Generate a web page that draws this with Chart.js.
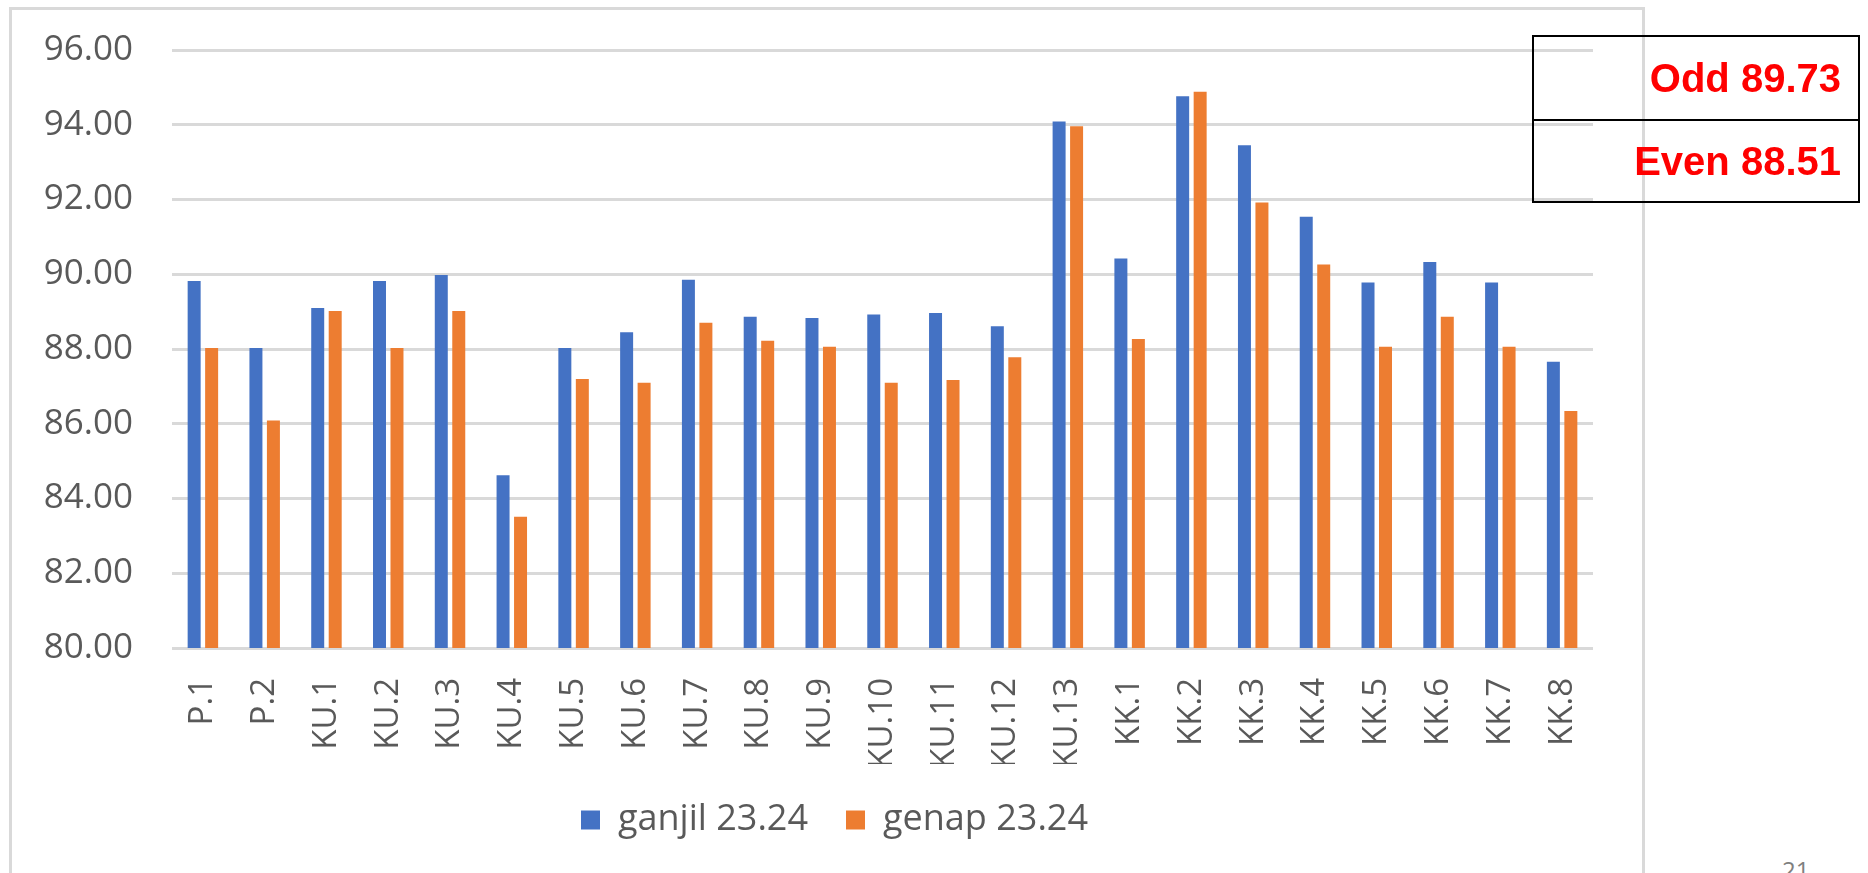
<!DOCTYPE html>
<html>
<head>
<meta charset="utf-8">
<title>ganjil / genap 23.24</title>
<script src="https://cdn.jsdelivr.net/npm/chart.js@4.4.1/dist/chart.umd.min.js"></script>
<style>
  html, body { margin: 0; padding: 0; background: #fff; overflow: hidden; }
  body { width: 1868px; height: 873px; position: relative; font-family: "Open Sans", sans-serif; }
  /* light grey frame round the chart, bottom edge runs off the page */
  #frame { position: absolute; left: 9px; top: 7px; width: 1636px; height: 900px;
           border: 3px solid #d9d9d9; box-sizing: border-box; }
  #chart { position: absolute; left: 0; top: 0; }
  /* averages box, top right */
  #avg { position: absolute; left: 1532px; top: 35px; width: 328px; height: 168px;
         border: 2px solid #000; box-sizing: border-box; }
  #avg div { height: 50%; box-sizing: border-box; display: flex; align-items: center;
             justify-content: flex-end; padding-right: 17px;
             font: bold 40px "Liberation Sans", Arial, sans-serif; color: #ff0000; }
  #avg div + div { border-top: 2px solid #000; }
  #page { position: absolute; left: 1782px; top: 858px; font-size: 24px; line-height: 24px; color: #7f7f7f; }
</style>
</head>
<body>
<div id="frame"><canvas id="chart" width="1630" height="863"></canvas></div>
<div id="avg"><div id="avgOdd"></div><div id="avgEven"></div></div>
<div id="page">21</div>
<script>
// Categories on the x axis
const labels = ['P.1', 'P.2', 'KU.1', 'KU.2', 'KU.3', 'KU.4', 'KU.5', 'KU.6', 'KU.7', 'KU.8',
    'KU.9', 'KU.10', 'KU.11', 'KU.12', 'KU.13', 'KK.1', 'KK.2', 'KK.3', 'KK.4', 'KK.5',
    'KK.6', 'KK.7', 'KK.8'];

// Scores per semester
const ganjil = [89.82, 88.03, 89.10, 89.82, 89.98, 84.62, 88.03, 88.45, 89.85, 88.86,
    88.83, 88.92, 88.96, 88.61, 94.09, 90.42, 94.76, 93.45, 91.54, 89.78,
    90.33, 89.78, 87.66];
const genap = [88.03, 86.09, 89.02, 88.03, 89.02, 83.51, 87.20, 87.10, 88.70, 88.22,
    88.06, 87.10, 87.17, 87.78, 93.96, 88.27, 94.88, 91.92, 90.26, 88.06,
    88.86, 88.06, 86.34];

const seriesNames = ['ganjil 23.24', 'genap 23.24'];
const seriesColors = ['#4472C4', '#ED7D31'];

// Y axis range
const yMin = 80;
const yMax = 96;
const yStep = 2;

// Averages shown in the box
function mean(arr) {
    var sum = 0;
    arr.forEach(v => sum += v);
    return sum / arr.length;
}
document.getElementById('avgOdd').textContent = 'Odd ' + mean(ganjil).toFixed(2);
document.getElementById('avgEven').textContent = 'Even ' + mean(genap).toFixed(2);

const axisGrey = '#595959';

const datasets = [ganjil, genap].map((data, i) => ({
    label: seriesNames[i],
    data: data,
    backgroundColor: seriesColors[i],
    borderWidth: 0,
    barPercentage: 0.743,
    categoryPercentage: 0.566
}));

// The legend sits a little right of the canvas middle
const legendShift = {
    id: 'legendShift',
    afterLayout(chart) {
        chart.legend.left += 20;
        chart.legend.right += 20;
    }
};

// Creates the chart
const ctx = document.getElementById('chart').getContext('2d');
new Chart(ctx, {
    type: 'bar',
    data: { labels: labels, datasets: datasets },
    plugins: [legendShift],
    options: {
        responsive: false,
        animation: false,
        layout: { padding: { top: 40, right: 49, bottom: 25, left: 24 } },
        plugins: {
            tooltip: { enabled: false },
            legend: {
                position: 'bottom',
                labels: {
                    boxWidth: 19,
                    boxHeight: 19,
                    padding: 38,
                    color: axisGrey,
                    font: { family: '"Open Sans", sans-serif', size: 36 }
                }
            }
        },
        scales: {
            x: {
                grid: { display: false },
                border: { display: false },
                ticks: {
                    color: axisGrey,
                    padding: 22,
                    minRotation: 90,
                    maxRotation: 90,
                    autoSkip: false,
                    font: { family: '"Open Sans", sans-serif', size: 33 }
                },
                afterFit: scale => { scale.height = 116; }
            },
            y: {
                min: yMin,
                max: yMax,
                grid: { color: '#d9d9d9', lineWidth: 3, drawTicks: false },
                border: { display: false },
                ticks: {
                    stepSize: yStep,
                    color: axisGrey,
                    padding: 39,
                    font: { family: '"Open Sans", sans-serif', size: 35 },
                    callback: v => v.toFixed(2)
                },
                afterFit: scale => {
                    scale.width = 136;
                    // tick padding would otherwise push the plot top down
                    scale.paddingTop = 0;
                    scale.paddingBottom = 0;
                }
            }
        }
    }
});
</script>
</body>
</html>
